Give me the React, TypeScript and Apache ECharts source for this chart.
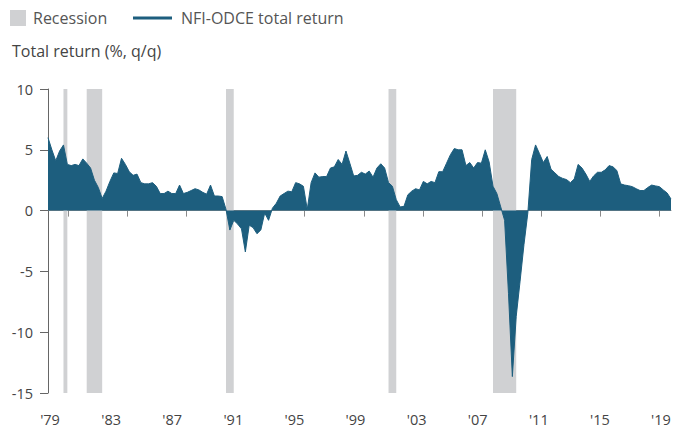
import React, { useEffect, useRef } from 'react';
import * as echarts from 'echarts';

// Quarterly categories 1979Q1 .. 2019Q2
const FIRST_YEAR = 1979;
const LAST_YEAR = 2019;
const LAST_QUARTER = 2;
const QUARTERS: string[] = [];
for (let y = FIRST_YEAR; y <= LAST_YEAR; y++) {
  for (let q = 1; q <= 4; q++) {
    if (y === LAST_YEAR && q > LAST_QUARTER) break;
    QUARTERS.push(`${y}Q${q}`);
  }
}

// NFI-ODCE total return, % q/q
const TOTAL_RETURN: number[] = [
  6.0, 5.0, 4.1, 4.9, 5.4, 3.8, 3.7, 3.8, 3.7, 4.25,
  3.9, 3.5, 2.5, 1.9, 1.0, 1.6, 2.4, 3.1, 3.05, 4.3,
  3.8, 3.2, 2.9, 3.0, 2.3, 2.2, 2.2, 2.3, 2.0, 1.4,
  1.4, 1.6, 1.4, 1.4, 2.1, 1.4, 1.5, 1.65, 1.8, 1.7,
  1.5, 1.35, 2.1, 1.2, 1.2, 1.15, 0.1, -1.6, -0.8, -1.1,
  -1.5, -3.4, -1.2, -1.4, -1.9, -1.6, -0.2, -0.8, 0.2, 0.6,
  1.2, 1.4, 1.6, 1.55, 2.3, 2.2, 2.0, 0.1, 2.3, 3.1,
  2.75, 2.8, 2.8, 3.5, 3.6, 4.2, 3.8, 4.9, 3.9, 2.85,
  2.9, 3.15, 3.0, 3.25, 2.75, 3.5, 3.85, 3.5, 2.3, 2.0,
  0.9, 0.3, 0.35, 1.3, 1.6, 1.8, 1.7, 2.4, 2.2, 2.4,
  2.3, 3.2, 3.2, 3.9, 4.6, 5.1, 5.0, 5.0, 3.7, 3.95,
  3.5, 3.95, 3.9, 5.0, 4.0, 2.0, 1.4, 0.3, -0.8, -6.8,
  -13.65, -8.7, -5.8, -2.8, -0.2, 4.2, 5.4, 4.7, 3.95, 4.45,
  3.4, 3.1, 2.8, 2.65, 2.55, 2.3, 2.6, 3.8, 3.5, 3.0,
  2.4, 2.85, 3.15, 3.15, 3.35, 3.7, 3.6, 3.3, 2.2, 2.1,
  2.05, 1.97, 1.8, 1.65, 1.65, 1.9, 2.1, 2.03, 1.97, 1.7,
  1.45, 0.95,
];

// US recessions (quarters)
const RECESSION_START = ['1980Q1', '1981Q3', '1990Q3', '2001Q1', '2007Q4'];
const RECESSION_END = ['1980Q2', '1982Q3', '1991Q1', '2001Q3', '2009Q2'];

// Tick labels
const LABEL_YEARS = [1979, 1983, 1987, 1991, 1995, 1999, 2003, 2007, 2011, 2015, 2019];
const Y_MIN = -15;
const Y_MAX = 10;
const Y_STEP = 5;

const AREA_COLOR = '#1d5e7e';
const RECESSION_COLOR = '#d0d1d3';
const FONT = '"Open Sans", sans-serif';

function qToYear(q: string): number {
  const y = Number(q.slice(0, 4));
  const n = Number(q.slice(5));
  return y + (n - 1) / 4;
}

export default function App() {
  const ref = useRef<HTMLDivElement>(null);

  useEffect(() => {
    if (!ref.current) return;
    const chart = echarts.init(ref.current, undefined, { renderer: 'svg' });

    const dataMin = qToYear(QUARTERS[0]);
    const dataMax = qToYear(QUARTERS[QUARTERS.length - 1]);
    // small tick marks along the zero line
    const zeroTicks: number[] = [];
    for (let k = 0; k < 11; k++) zeroTicks.push(1980.31 + 3.818 * k);

    const option: any = {
      animation: false,
      textStyle: { fontFamily: FONT },
      title: {
        text: 'Total return (%, q/q)',
        left: 12,
        top: 43,
        padding: 0,
        textStyle: { fontFamily: FONT, fontSize: 16, fontWeight: 'normal', color: '#444' },
      },
      legend: [
        {
          data: [{ name: 'Recession', icon: 'rect' }],
          left: 10,
          top: 10,
          padding: 0,
          itemWidth: 16,
          itemHeight: 16,
          selectedMode: false,
          itemStyle: { borderWidth: 0 },
          textStyle: { fontFamily: FONT, fontSize: 16, color: '#555', padding: [0, 0, 0, 2] },
        },
        {
          data: [{ name: 'NFI-ODCE total return', icon: 'rect' }],
          left: 133,
          top: 10,
          padding: 0,
          itemWidth: 39,
          itemHeight: 3,
          selectedMode: false,
          itemStyle: { borderWidth: 0 },
          textStyle: { fontFamily: FONT, fontSize: 16, color: '#555', padding: [0, 0, 0, 4] },
        },
      ],
      grid: {
        left: 48,
        right: 2,
        top: 89,
        bottom: 43,
        containLabel: false,
        outerBoundsMode: 'none',
      },
      xAxis: [
        {
          type: 'value',
          position: 'top',
          min: dataMin,
          max: dataMax,
          axisLine: { show: true, onZero: true, lineStyle: { color: '#8a8a8a', width: 1 } },
          axisTick: {
            show: true,
            inside: true,
            length: 6,
            customValues: zeroTicks,
            lineStyle: { color: '#8a8a8a', width: 1 },
          },
          axisLabel: { show: false },
          splitLine: { show: false },
        },
        {
          type: 'value',
          position: 'bottom',
          min: 1978.869,
          max: 2019.655,
          axisLine: { show: false, onZero: false },
          axisTick: { show: false },
          splitLine: { show: false },
          axisLabel: {
            customValues: LABEL_YEARS,
            formatter: (v: number) => "'" + String(Math.round(v)).slice(2),
            fontFamily: FONT,
            fontSize: 14.5,
            color: '#444',
            margin: 19,
          },
        },
      ],
      yAxis: {
        type: 'value',
        min: Y_MIN,
        max: Y_MAX,
        interval: Y_STEP,
        axisLine: { show: true, onZero: false, lineStyle: { color: '#666', width: 1 } },
        axisTick: { show: true, length: 8, lineStyle: { color: '#666', width: 1 } },
        axisLabel: { fontFamily: FONT, fontSize: 14.5, color: '#444', margin: 15 },
        splitLine: { show: false },
      },
      series: [
        {
          name: 'Recession',
          type: 'line',
          xAxisIndex: 0,
          data: [],
          color: RECESSION_COLOR,
          itemStyle: { color: RECESSION_COLOR },
          z: 1,
          markArea: {
            silent: true,
            label: { show: false },
            itemStyle: { color: RECESSION_COLOR, opacity: 1 },
            data: RECESSION_START.map((s, i) => [
              { xAxis: qToYear(s) },
              { xAxis: qToYear(RECESSION_END[i]) },
            ]),
          },
        },
        {
          name: 'NFI-ODCE total return',
          type: 'line',
          xAxisIndex: 0,
          data: QUARTERS.map((q, i) => [qToYear(q), TOTAL_RETURN[i]]),
          symbol: 'none',
          color: AREA_COLOR,
          itemStyle: { color: AREA_COLOR },
          lineStyle: { color: AREA_COLOR, width: 1 },
          areaStyle: { color: AREA_COLOR, opacity: 1 },
          z: 2,
        },
      ],
    };

    chart.setOption(option);
    return () => chart.dispose();
  }, []);

  return <div ref={ref} style={{ width: 673, height: 436, position: 'absolute', left: 0, top: 0 }} />;
}
